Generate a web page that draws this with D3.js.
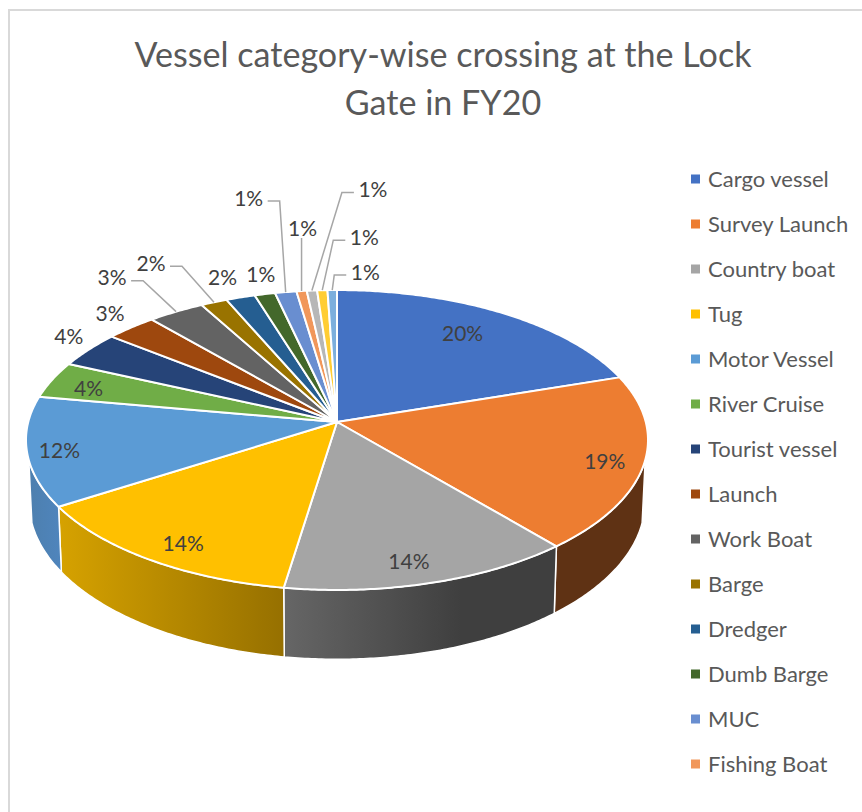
<!DOCTYPE html>
<html>
<head>
<meta charset="utf-8">
<script src="https://cdnjs.cloudflare.com/ajax/libs/d3/7.8.5/d3.min.js"></script>
<style>
  html, body { margin: 0; padding: 0; background: #fff; }
  svg { display: block; }
  text { font-family: Lato, "Noto Sans", sans-serif; fill: #595959; }
</style>
</head>
<body>
<svg id="chart" width="862" height="812"></svg>
<script>
// Share of lock gate crossings by vessel category, FY20 (percent).
const titleLines = ["Vessel category-wise crossing at the Lock", "Gate in FY20"];
const categories = ["Cargo vessel", "Survey Launch", "Country boat", "Tug", "Motor Vessel",
  "River Cruise", "Tourist vessel", "Launch", "Work Boat", "Barge", "Dredger", "Dumb Barge",
  "MUC", "Fishing Boat"];
const shares = [19.93, 18.9, 13.6, 13.55, 11.8, 3.97, 3.9, 3.0, 3.3, 1.55, 1.7, 1.2, 1.25, 0.6, 0.6, 0.6, 0.55];
const sliceColors = ["#4472c4", "#ed7d31", "#a5a5a5", "#ffc000", "#5b9bd5", "#70ad47", "#264478",
  "#9e480e", "#636363", "#997300", "#255e91", "#43682b", "#698ed0", "#f1975a", "#b7b7b7", "#ffcd33", "#7cafdd"];
// Side wall shading, left to right, for the slices that face the viewer.
const wallShades = { 1: ["#5f3214", "#5f3214"], 2: ["#666666", "#3f3f3f"], 3: ["#d6a200", "#967000"], 4: ["#4d7fae", "#4f85bd"] };
// Data label placement: radial position on the disc, pixel nudge, leader kind.
const labelLayout = [
  { r: 0.7, dx: 7, dy: -11 }, { r: 0.85, dx: 8, dy: 3 }, { r: 0.85, dx: -7, dy: 4 },
  { r: 0.85, dx: 3, dy: 5 }, { r: 0.85, dx: -15, dy: 3 }, { r: 0.85, dx: -5, dy: 1 },
  { r: 1, dx: -20, dy: -14 }, { r: 1, dx: -21, dy: -15 },
  { r: 1, dx: -64, dy: -35, leader: "elbow" }, { r: 1, dx: -63, dy: -40, leader: "elbow" },
  { r: 1, dx: -18, dy: -21 }, { r: 1, dx: -4, dy: -21 },
  { r: 1, dx: -37, dy: -95, leader: "elbow" }, { r: 1, dx: 1, dy: -64, leader: "straight" },
  { r: 1, dx: 61, dy: -102, leader: "elbow" }, { r: 1, dx: 42, dy: -54, leader: "elbow" },
  { r: 1, dx: 33, dy: -19, leader: "elbow" }
];

const svg = d3.select("#chart");

// Chart frame
svg.append("path")
  .attr("d", "M9,812V10H862")
  .attr("fill", "none").attr("stroke", "#d9d9d9").attr("stroke-width", 2);

// Perspective disc: apex of the pie, horizontal/vertical scale and foreshortening.
const cx = 337, cy = 422, scaleX = 308.75, scaleY = 147.8, persp = 0.12;
const wallDepth = 61, baseShrink = 0.99;

function discPoint(theta, r = 1) {
  const u = r * Math.sin(theta), v = r * Math.cos(theta), w = 1 + persp * v;
  return [cx + scaleX * u / w, cy - scaleY * v / w];
}
function basePoint(theta) {
  const [x, y] = discPoint(theta);
  return [cx + (x - cx) * baseShrink, y + wallDepth / (1 + persp * Math.cos(theta))];
}
function arcSamples(a0, a1) {
  const n = Math.max(2, Math.ceil(Math.abs(a1 - a0) / 0.01));
  return d3.range(n + 1).map(i => a0 + (a1 - a0) * i / n);
}

const pie = d3.pie().sort(null).value(d => d);
const arcs = pie(shares);
const total = d3.sum(shares);
const pct = d3.format(".0%");
const line = d3.line();

// Side walls start a little below the widest point of the rim on both sides.
const wallEdge = Math.acos(-0.25);
const wallFrom = wallEdge, wallTo = 2 * Math.PI - wallEdge;
const defs = svg.append("defs");
const wallLayer = svg.append("g");
arcs.forEach((d, i) => {
  const a0 = Math.max(d.startAngle, wallFrom), a1 = Math.min(d.endAngle, wallTo);
  if (a1 <= a0) return;
  const samples = arcSamples(a0, a1);
  const outline = samples.map(t => discPoint(t)).concat(samples.slice().reverse().map(t => basePoint(t)));
  const shade = wallShades[i] || [sliceColors[i], sliceColors[i]];
  const grad = defs.append("linearGradient").attr("id", "wall" + i)
    .attr("x1", 0).attr("x2", 1).attr("y1", 0).attr("y2", 0);
  grad.append("stop").attr("offset", 0).attr("stop-color", shade[0]);
  grad.append("stop").attr("offset", i === 2 ? 0.65 : 1).attr("stop-color", shade[1]);
  wallLayer.append("path")
    .attr("d", line(outline) + "Z")
    .attr("fill", `url(#wall${i})`)
    .attr("stroke", "#fff").attr("stroke-width", 1.5).attr("stroke-linejoin", "round");
});

// Top face of the pie
svg.append("g").selectAll("path").data(arcs).join("path")
  .attr("d", d => line([[cx, cy]].concat(arcSamples(d.startAngle, d.endAngle).map(t => discPoint(t)))) + "Z")
  .attr("fill", (d, i) => sliceColors[i])
  .attr("stroke", "#fff").attr("stroke-width", 2).attr("stroke-linejoin", "round");

// Data labels and their leader lines
const labelLayer = svg.append("g");
arcs.forEach((d, i) => {
  const mid = (d.startAngle + d.endAngle) / 2;
  const place = labelLayout[i];
  const [ax, ay] = discPoint(mid, place.r);
  const lx = ax + place.dx, ly = ay + place.dy;
  if (place.leader === "elbow") {
    const side = place.dx > 0 ? 1 : -1;
    const edge = lx - side * 19, elbow = edge - side * 12;
    labelLayer.append("path")
      .attr("d", line([[ax, ay], [elbow, ly + 4], [edge, ly + 4]]))
      .attr("fill", "none").attr("stroke", "#a6a6a6").attr("stroke-width", 1.5);
  } else if (place.leader === "straight") {
    labelLayer.append("path")
      .attr("d", line([[ax, ay], [ax, ly + 11]]))
      .attr("fill", "none").attr("stroke", "#a6a6a6").attr("stroke-width", 1.5);
  }
  labelLayer.append("text")
    .attr("x", lx).attr("y", ly)
    .attr("text-anchor", "middle").attr("dominant-baseline", "central")
    .attr("font-size", 21)
    .style("fill", "#404040")
    .text(pct(d.value / total));
});

// Title
svg.append("g").selectAll("text").data(titleLines).join("text")
  .attr("x", 443).attr("y", (d, i) => 67 + i * 48)
  .attr("text-anchor", "middle").attr("font-size", 34.1)
  .text(d => d);

// Legend (the list runs out at the bottom of the frame)
const rowY = d3.scalePoint().domain(categories).range([179, 179 + 45 * (categories.length - 1)]);
const legend = svg.append("g").selectAll("g").data(categories).join("g")
  .attr("transform", d => `translate(691,${rowY(d)})`);
legend.append("rect").attr("x", 0).attr("y", -4.5).attr("width", 9).attr("height", 9)
  .attr("fill", (d, i) => sliceColors[i]);
legend.append("text").attr("x", 17).attr("y", 8)
  .attr("font-size", 22)
  .text(d => d);
</script>
</body>
</html>
